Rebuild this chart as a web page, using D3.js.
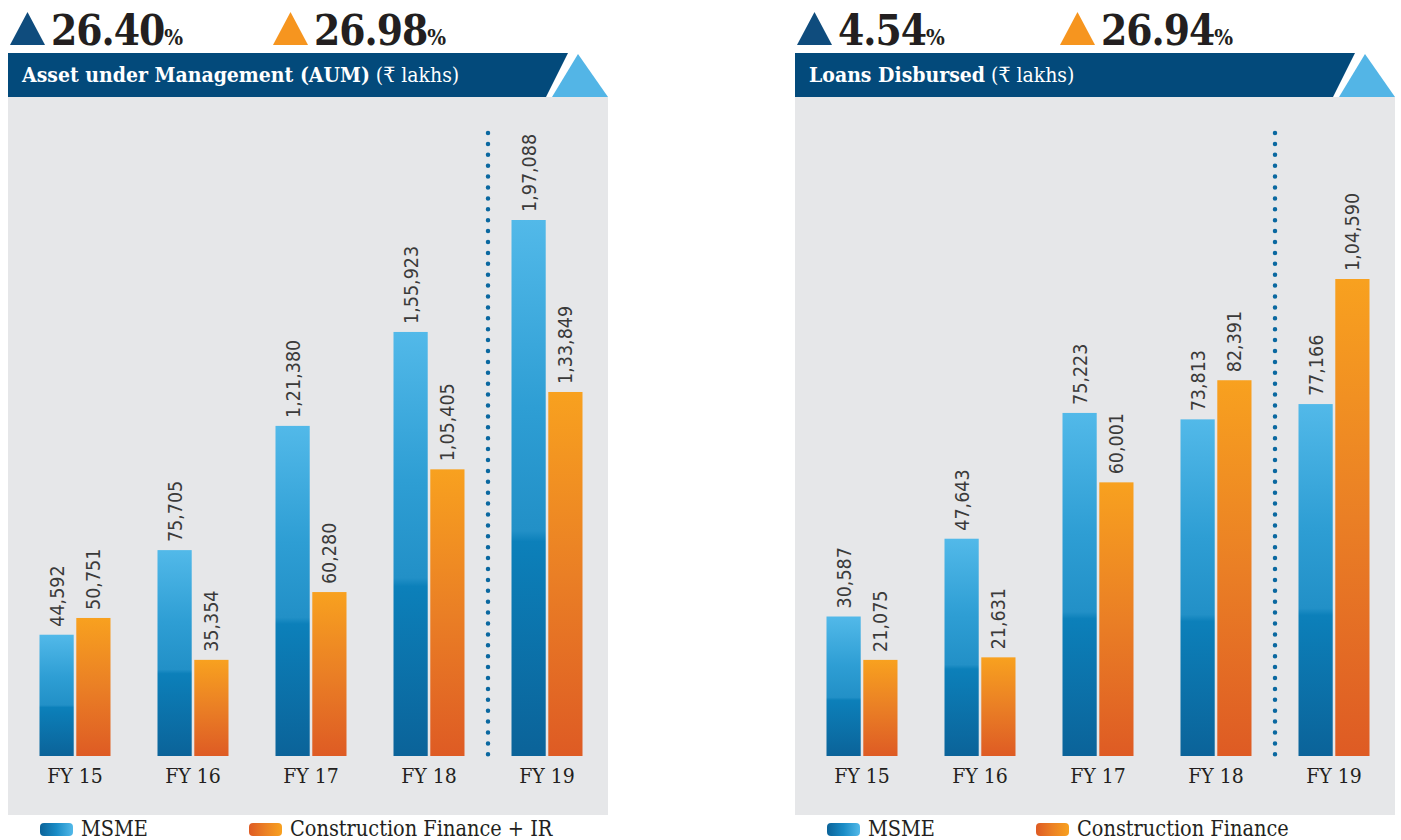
<!DOCTYPE html>
<html>
<head>
<meta charset="utf-8">
<script src="https://cdn.jsdelivr.net/npm/d3@7"></script>
<style>
  html, body { margin: 0; padding: 0; background: #ffffff; }
  svg { display: block; }
  text { font-family: "DejaVu Serif Condensed", "DejaVu Serif", serif; }
</style>
</head>
<body>
<svg id="chart" width="1401" height="840"></svg>
<script>
// Financial years on the category axis
const years = ["FY 15", "FY 16", "FY 17", "FY 18", "FY 19"];

// Assets under management (₹ lakhs)
const aumMsme = [44592, 75705, 121380, 155923, 197088];
const aumConstruction = [50751, 35354, 60280, 105405, 133849];

// Loans disbursed (₹ lakhs)
const loansMsme = [30587, 47643, 75223, 73813, 77166];
const loansConstruction = [21075, 21631, 60001, 82391, 104590];

// Year-on-year growth shown above each panel (%)
const aumGrowth = ["26.40", "26.98"];
const loansGrowth = ["4.54", "26.94"];

const seriesKeys = ["msme", "cf"];

const svg = d3.select("#chart");
const defs = svg.append("defs");

// Vertical gradients for the bars, horizontal ones for legend swatches
function vGrad(id, stops) {
  const g = defs.append("linearGradient").attr("id", id)
    .attr("x1", 0).attr("y1", 0).attr("x2", 0).attr("y2", 1);
  stops.forEach(s => g.append("stop").attr("offset", s[0]).attr("stop-color", s[1]));
}
function hGrad(id, stops) {
  const g = defs.append("linearGradient").attr("id", id)
    .attr("x1", 0).attr("y1", 0).attr("x2", 1).attr("y2", 0);
  stops.forEach(s => g.append("stop").attr("offset", s[0]).attr("stop-color", s[1]));
}
vGrad("gBlue", [[0, "#52b9e9"], [0.35, "#2e9ed4"], [0.58, "#2290c7"], [0.6, "#0c80ba"], [1, "#0b6399"]]);
vGrad("gOrange", [[0, "#f8a11f"], [0.5, "#ea7f25"], [1, "#de5b24"]]);
hGrad("lBlue", [[0, "#0b6399"], [0.5, "#1a8cc6"], [1, "#52b9e9"]]);
hGrad("lOrange", [[0, "#de5b24"], [0.5, "#ec8124"], [1, "#f8a11f"]]);

const fill = { msme: "url(#gBlue)", cf: "url(#gOrange)" };

// Indian digit grouping: 1,97,088
function inr(v) {
  const s = String(Math.round(v));
  if (s.length <= 3) return s;
  const last3 = s.slice(-3);
  let rest = s.slice(0, -3);
  const parts = [];
  while (rest.length > 2) { parts.unshift(rest.slice(-2)); rest = rest.slice(0, -2); }
  if (rest.length) parts.unshift(rest);
  return parts.join(",") + "," + last3;
}

const baseY = 756;

function panel(opts) {
  const g = svg.append("g").attr("transform", `translate(${opts.x},0)`);
  const W = 600;

  // Growth headline with triangle markers
  const heads = [
    { value: opts.growth[0], color: "#0f4c7d", x: 2 },
    { value: opts.growth[1], color: "#f6951f", x: opts.secondX }
  ];
  heads.forEach(h => {
    g.append("path")
      .attr("d", `M${h.x},45 L${h.x + 17.5},12 L${h.x + 35},45 Z`)
      .attr("fill", h.color);
    const t = g.append("text")
      .attr("x", h.x + 41).attr("y", 45)
      .attr("fill", "#231f20")
      .style("font-weight", "bold");
    t.append("tspan").style("font-size", "42px").style("letter-spacing", "-1px").text(h.value);
    t.append("tspan").style("font-size", "22px").text("%");
  });

  // Plot background
  g.append("rect").attr("x", 0).attr("y", 97).attr("width", W).attr("height", 718)
    .attr("fill", "#e6e7e9");

  // Title banner with slanted end and light-blue triangle
  g.append("path")
    .attr("d", `M0,53 L${W - 40},53 L${W - 62},97 L0,97 Z`)
    .attr("fill", "#034a7b");
  g.append("path")
    .attr("d", `M${W - 30},54 L${W},97 L${W - 56},97 Z`)
    .attr("fill", "#53b5e6");
  const title = g.append("text").attr("x", 14).attr("y", 82).attr("fill", "#ffffff")
    .style("font-size", "21px");
  title.append("tspan").style("font-weight", "bold").text(opts.title);
  title.append("tspan").text(" (₹ lakhs)");

  // Scales
  const x0 = d3.scaleBand().domain(years).range([8, 598]);
  const x1 = d3.scaleBand().domain(seriesKeys).range([-35.5, 35.5]).paddingInner(0.07);
  const y = d3.scaleLinear().domain([0, d3.max(opts.msme.concat(opts.cf))]).range([baseY, opts.topY]);

  const rows = years.map((yr, i) => ({ year: yr, msme: opts.msme[i], cf: opts.cf[i] }));

  const groups = g.selectAll("g.year").data(rows).join("g")
    .attr("class", "year")
    .attr("transform", d => `translate(${x0(d.year) + x0.bandwidth() / 2},0)`);

  groups.selectAll("rect").data(d => seriesKeys.map(k => ({ key: k, value: d[k] }))).join("rect")
    .attr("x", d => x1(d.key))
    .attr("width", x1.bandwidth())
    .attr("y", d => y(d.value))
    .attr("height", d => baseY - y(d.value))
    .attr("fill", d => fill[d.key]);

  // Rotated value labels above each bar
  groups.selectAll("text.val").data(d => seriesKeys.map(k => ({ key: k, value: d[k] }))).join("text")
    .attr("class", "val")
    .attr("transform", d => `translate(${x1(d.key) + x1.bandwidth() / 2 + 7},${y(d.value) - 8}) rotate(-90)`)
    .attr("fill", "#3a3a3a")
    .style("font-family", "'DejaVu Sans Condensed', 'DejaVu Sans', sans-serif")
    .style("font-size", "19.5px")
    .text(d => inr(d.value));

  // Category axis labels
  const axis = g.append("g").attr("transform", `translate(0,${baseY})`)
    .call(d3.axisBottom(x0).tickSize(0).tickPadding(0));
  axis.select(".domain").remove();
  axis.selectAll("text")
    .attr("dy", null).attr("y", 27)
    .attr("fill", "#231f20")
    .style("font-size", "21px")
    .style("font-family", "'DejaVu Serif Condensed', 'DejaVu Serif', serif");

  // Dotted divider between the last two years
  const divX = (x0(years[3]) + x0(years[4]) + x0.bandwidth()) / 2;
  g.append("line")
    .attr("x1", divX).attr("x2", divX).attr("y1", 133).attr("y2", baseY)
    .attr("stroke", "#0a68a0").attr("stroke-width", 4.5)
    .attr("stroke-linecap", "round").attr("stroke-dasharray", "0 10.9");

  // Legend
  const legend = [
    { label: "MSME", fill: "url(#lBlue)", x: 32 },
    { label: opts.cfLabel, fill: "url(#lOrange)", x: 241 }
  ];
  legend.forEach(l => {
    g.append("rect").attr("x", l.x).attr("y", 823).attr("width", 33).attr("height", 13)
      .attr("rx", 4).attr("fill", l.fill);
    g.append("text").attr("x", l.x + 41).attr("y", 836)
      .attr("fill", "#231f20").style("font-size", "21.5px").text(l.label);
  });
}

panel({
  x: 8, title: "Asset under Management (AUM)", growth: aumGrowth, secondX: 265,
  msme: aumMsme, cf: aumConstruction, topY: 220, cfLabel: "Construction Finance + IR"
});
panel({
  x: 795, title: "Loans Disbursed", growth: loansGrowth, secondX: 265,
  msme: loansMsme, cf: loansConstruction, topY: 279, cfLabel: "Construction Finance"
});
</script>
</body>
</html>
